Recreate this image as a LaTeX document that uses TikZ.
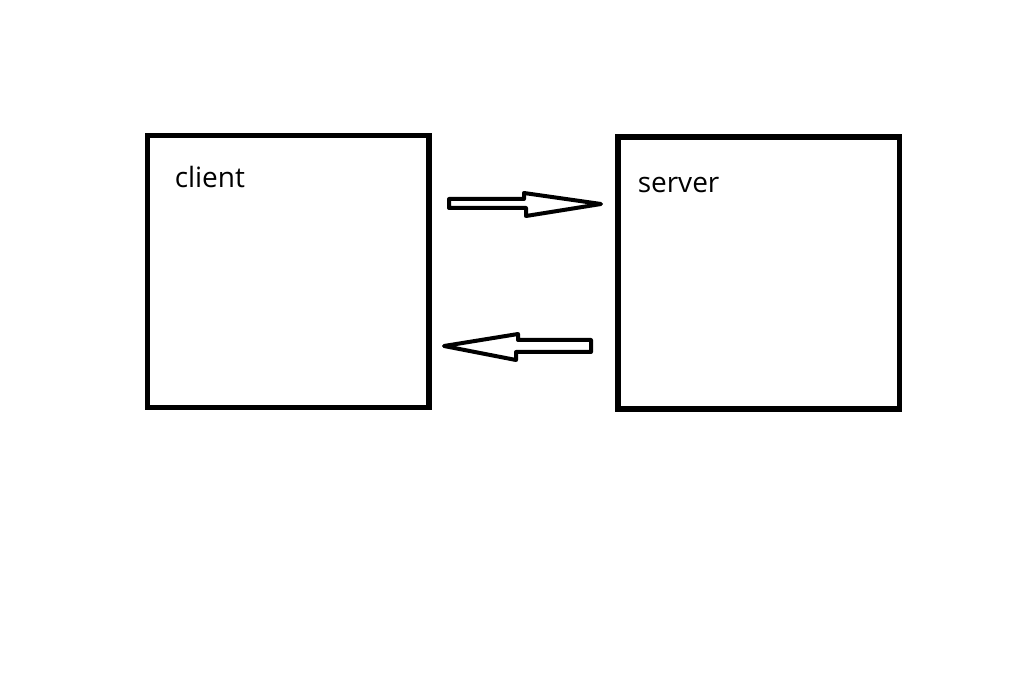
\documentclass[tikz,border=0pt]{standalone}
\usepackage{fontspec}
\setmainfont{Open Sans}
\usetikzlibrary{positioning}

\begin{document}
\begin{tikzpicture}[x=1pt,y=-1pt,line width=5.5pt]
\tikzstyle{box} = [draw=black,minimum width=281.5pt,minimum height=272pt,inner sep=0pt]
\tikzstyle{lbl} = [anchor=base west,inner sep=0pt,font=\fontsize{28}{32}\selectfont]
\tikzstyle{blockarrow} = [draw=black,line width=4pt,line join=round,fill=white]
\useasboundingbox (0,0) rectangle (1029,676);
    \node[box] (client) at (288.25,271.5) {};
    \node[box] (server) at (758.75,273.25) {};
    \node[lbl] (clientlbl) at (172,188) {client};
    \node[lbl] (serverlbl) at (635,193) {server};

    % request and reply
    \draw[blockarrow] (449,199) -- (524,199) -- (524,193) -- (601,204) -- (526,216)
        -- (526,208) -- (449,208) -- cycle;
    \draw[blockarrow] (444,346) -- (518,334) -- (518,340) -- (591,340) -- (591,352)
        -- (516,352) -- (516,360) -- cycle;
\end{tikzpicture}
\end{document}
